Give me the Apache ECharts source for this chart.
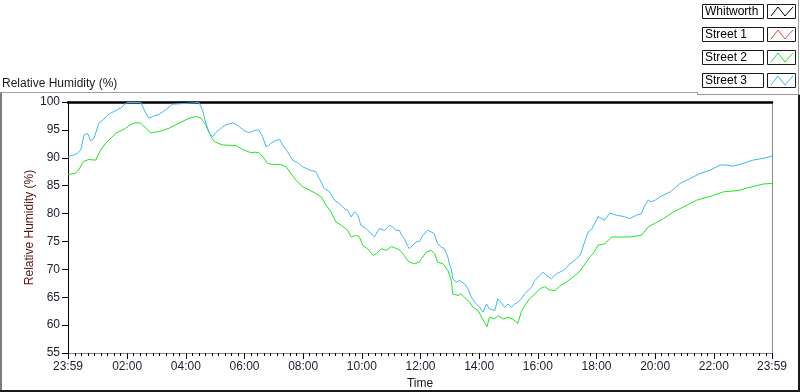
<!DOCTYPE html>
<html><head><meta charset="utf-8">
<script src="https://cdn.jsdelivr.net/npm/echarts@6/dist/echarts.min.js"></script>
<style>html,body{margin:0;padding:0;background:#fff}#c{width:800px;height:392px}</style>
</head><body><div id="c"></div>
<script>
// ---- data (x = minutes after midnight; -1 = 23:59 of previous day) ----
const seriesNames = ['Whitworth', 'Street 1', 'Street 2', 'Street 3'];
const seriesColors = ['#000000', '#e84848', '#1ee61e', '#3db8f2'];

const whitworthMin = [];
const whitworthRH = [];
const street1Min = [];
const street1RH = [];

const street2Min = [-1,5,13,19,24,28,32,42,50,56,60,66,75,83,97,106,117,126,138,148,158,168,177,185,206,226,247,261,271,281,288,298,315,342,356,373,382,390,400,407,417,434,445,455,465,479,493,506,517,527,537,547,558,571,578,589,595,602,612,623,630,640,650,661,671,677,681,687,691,697,701,708,711,718,722,725,732,735,742,746,749,755,759,766,769,776,783,786,797,803,810,821,827,838,845,851,856,861,872,878,889,899,909,919,926,933,943,954,964,974,984,995,1005,1018,1032,1046,1059,1066,1073,1083,1097,1111,1128,1148,1172,1186,1200,1217,1238,1258,1285,1313,1340,1367,1394,1421,1439];
const street2RH = [87.0,87.1,87.2,87.6,88.3,89.0,89.4,89.7,89.6,89.6,90.4,91.4,92.5,93.2,94.4,94.8,95.3,95.9,96.3,96.2,95.3,94.5,94.6,94.7,95.3,96.2,97.1,97.4,97.1,95.9,94.4,92.9,92.3,92.2,91.5,90.9,91.0,90.9,89.9,89.0,88.8,88.8,88.4,87.2,86.0,84.8,84.2,83.6,83.0,81.5,80.3,78.5,77.9,77.0,75.8,76.1,75.8,74.3,73.7,72.5,72.8,73.7,73.4,74.1,73.7,73.5,73.1,72.5,71.9,71.3,71.0,71.0,71.0,71.3,71.9,72.2,73.1,73.3,73.4,73.1,72.8,71.3,71.3,71.0,71.0,69.8,68.0,65.6,65.3,65.6,65.0,64.1,63.2,62.6,61.4,60.5,59.7,61.4,61.1,61.7,61.1,61.4,61.1,60.3,62.3,63.5,64.7,65.6,66.5,66.9,66.3,66.2,67.0,67.7,68.6,69.7,71.3,72.2,72.8,74.3,74.6,75.8,75.8,75.8,76.1,77.6,78.3,79.1,80.3,81.2,82.4,83.1,83.9,84.1,84.7,85.3,85.4];

const street3Min = [-1,5,11,18,25,29,32,39,42,45,52,57,62,71,78,86,93,100,108,114,120,148,155,161,165,172,179,185,192,199,206,212,216,267,274,281,288,295,301,308,315,322,329,336,342,349,356,363,370,373,378,383,390,397,404,409,414,424,432,438,448,458,469,479,493,506,513,523,534,544,554,564,571,578,585,592,598,609,619,626,632,636,646,657,663,670,677,680,687,693,697,704,711,718,725,735,742,748,755,762,769,776,779,783,786,793,800,810,817,824,831,841,848,855,861,872,878,885,892,899,906,913,919,926,933,940,947,954,964,971,978,988,998,1012,1025,1039,1046,1049,1056,1063,1070,1080,1083,1090,1097,1107,1121,1134,1148,1162,1172,1179,1186,1192,1200,1210,1231,1251,1272,1292,1313,1333,1345,1360,1380,1401,1421,1439];
const street3RH = [90.1,90.4,90.5,90.8,91.4,93.0,94.1,94.4,93.8,93.0,93.5,94.8,96.2,96.8,97.5,98.0,98.3,98.6,99.0,99.5,99.9,99.9,98.6,97.6,97.1,97.4,97.6,97.8,98.2,98.6,99.1,99.6,99.9,99.9,98.6,96.2,94.4,93.8,94.5,95.0,95.5,95.9,96.1,96.2,96.0,95.6,95.1,94.7,94.5,94.4,94.8,95.0,94.9,93.8,92.0,92.2,92.6,93.1,93.3,92.3,91.1,89.6,89.1,88.4,87.8,87.5,86.3,84.5,83.9,82.4,81.8,80.9,80.6,79.4,80.3,79.7,77.9,77.3,76.4,75.8,76.8,77.3,77.0,77.9,77.6,77.0,77.0,76.3,75.5,74.3,73.7,74.3,74.9,75.0,76.1,77.0,76.7,76.4,74.6,74.0,73.7,72.2,71.0,70.1,68.3,67.7,68.0,67.4,66.5,65.0,64.1,63.2,62.3,63.8,62.9,62.6,64.7,64.1,63.2,63.8,63.2,63.8,64.1,64.7,65.6,66.2,66.8,68.0,68.9,69.5,68.9,68.3,69.2,69.8,70.9,71.9,72.5,73.1,75.0,76.7,77.2,78.8,79.5,79.1,78.8,80.1,79.7,79.5,79.1,79.7,80.0,81.5,82.4,82.1,82.4,83.0,83.9,85.4,86.3,87.2,87.8,88.7,88.7,88.5,89.0,89.6,89.9,90.3];

const xTickValues = [-1,120,240,360,480,600,720,840,960,1080,1200,1320,1439];
const xTickLabels = ['23:59','02:00','04:00','06:00','08:00','10:00','12:00','14:00','16:00','18:00','20:00','22:00','23:59'];
const yMin = 55, yMax = 100, yStep = 5;
const xMin = -1, xMax = 1439;
const minorPerMajor = 9; // 8 minor ticks between labelled ticks

// ---- build ----
const FONT = 'Liberation Sans, Arial, sans-serif';
const pair = (xs, ys) => xs.map((x, i) => [x, ys[i]]);
const seriesData = [pair(whitworthMin, whitworthRH), pair(street1Min, street1RH), pair(street2Min, street2RH), pair(street3Min, street3RH)];

const minorTicks = [];
for (let k = 1; k * 120 / minorPerMajor < xMax; k++) {
  if (k % minorPerMajor !== 0) minorTicks.push(k * 120 / minorPerMajor);
}

const chart = echarts.init(document.getElementById('c'), null, {renderer: 'canvas'});

const graphics = [];
// outer frame
graphics.push({type: 'rect', shape: {x: 0, y: 92, width: 2, height: 300}, style: {fill: '#7c7c7c'}, silent: true});
graphics.push({type: 'line', shape: {x1: 0, y1: 92.5, x2: 698, y2: 92.5}, style: {stroke: '#a0a0a0', lineWidth: 1}, silent: true});
graphics.push({type: 'rect', shape: {x: 0, y: 390, width: 800, height: 2}, style: {fill: '#1a1a1a'}, silent: true});
graphics.push({type: 'rect', shape: {x: 798, y: 95, width: 2, height: 297}, style: {fill: '#1a1a1a'}, silent: true});
// legend panel lines
graphics.push({type: 'line', shape: {x1: 798.5, y1: 0, x2: 798.5, y2: 95}, style: {stroke: '#9a9a9a', lineWidth: 1}, silent: true});
graphics.push({type: 'line', shape: {x1: 697.5, y1: 94.5, x2: 800, y2: 94.5}, style: {stroke: '#9a9a9a', lineWidth: 1}, silent: true});
graphics.push({type: 'line', shape: {x1: 697.5, y1: 92, x2: 697.5, y2: 95}, style: {stroke: '#9a9a9a', lineWidth: 1}, silent: true});
// legend boxes
for (let k = 0; k < seriesNames.length; k++) {
  graphics.push({type: 'rect', z: 0, shape: {x: 702.5, y: 4.5 + 23 * k, width: 61, height: 14}, style: {fill: '#fff', stroke: '#1a1a1a', lineWidth: 1}, silent: true});
  graphics.push({type: 'rect', z: 0, shape: {x: 767.5, y: 4.5 + 23 * k, width: 28, height: 14}, style: {fill: '#fff', stroke: '#1a1a1a', lineWidth: 1}, silent: true});
}

const option = {
  animation: false,
  backgroundColor: '#ffffff',
  title: {
    text: 'Relative Humidity (%)', left: 2, top: 78, padding: 0,
    textStyle: {fontFamily: FONT, fontSize: 12, fontWeight: 'normal', color: '#1a1a1a'}
  },
  legend: {
    orient: 'vertical', left: 705, top: 4, padding: 0, itemGap: 8,
    align: 'right', itemWidth: 22, itemHeight: 11,
    icon: 'path://M0,10 L7,1 L14,10 L22,1',
    selectedMode: false,
    formatter: name => '{a|' + name + '}',
    textStyle: {
      fontFamily: FONT, fontSize: 12, color: '#000',
      rich: {a: {width: 61, height: 15, lineHeight: 15, align: 'left', fontFamily: FONT, fontSize: 12, color: '#000'}}
    },
    data: seriesNames.map((n, i) => ({name: n, itemStyle: {color: 'none', borderColor: seriesColors[i], borderWidth: 1}}))
  },
  grid: {left: 68, right: 28, top: 102, bottom: 39, containLabel: false, outerBoundsMode: 'none'},
  xAxis: [
    {
      type: 'value', min: xMin, max: xMax, position: 'bottom',
      axisLine: {show: true, onZero: false, lineStyle: {color: '#8a8a8a', width: 1}},
      axisTick: {show: true, customValues: xTickValues, length: 6, lineStyle: {color: '#000', width: 1}},
      axisLabel: {
        show: true, customValues: xTickValues, margin: 8,
        fontFamily: FONT, fontSize: 12, color: '#1c1c2c',
        formatter: v => { const i = xTickValues.indexOf(v); return i >= 0 ? xTickLabels[i] : ''; }
      },
      splitLine: {show: false},
      name: 'Time', nameLocation: 'middle', nameGap: 25, nameMoveOverlap: false,
      nameTextStyle: {fontFamily: FONT, fontSize: 12, color: '#1a1a1a'}
    },
    {
      type: 'value', min: xMin, max: xMax, position: 'bottom',
      axisLine: {show: false, onZero: false},
      axisTick: {show: true, customValues: minorTicks, length: 3, lineStyle: {color: '#000', width: 1}},
      axisLabel: {show: false},
      splitLine: {show: false}
    },
    {
      type: 'value', min: xMin, max: xMax, position: 'top',
      axisLine: {show: true, onZero: false, lineStyle: {color: '#000', width: 2.5}},
      axisTick: {show: false}, axisLabel: {show: false}, splitLine: {show: false}
    }
  ],
  yAxis: [
    {
      type: 'value', min: yMin, max: yMax, interval: yStep, position: 'left',
      axisLine: {show: true, onZero: false, lineStyle: {color: '#000', width: 1}},
      axisTick: {show: true, length: 6, lineStyle: {color: '#000', width: 1}},
      axisLabel: {show: true, margin: 8, fontFamily: FONT, fontSize: 12, color: '#1c1c2c'},
      splitLine: {show: false},
      name: 'Relative Humidity (%)', nameLocation: 'middle', nameRotate: 90, nameGap: 32,
      nameMoveOverlap: false,
      nameTextStyle: {fontFamily: FONT, fontSize: 12, color: '#5a1010'}
    },
    {
      type: 'value', min: yMin, max: yMax, position: 'right',
      axisLine: {show: true, onZero: false, lineStyle: {color: '#8a8a8a', width: 1}},
      axisTick: {show: false}, axisLabel: {show: false}, splitLine: {show: false}
    }
  ],
  series: seriesNames.map((n, i) => ({
    name: n, type: 'line', xAxisIndex: 0, yAxisIndex: 0,
    data: seriesData[i], showSymbol: false, symbol: 'none',
    color: seriesColors[i],
    lineStyle: {color: seriesColors[i], width: 1},
    clip: true, z: 3
  })),
  graphic: graphics
};
chart.setOption(option);
</script>
</body></html>
